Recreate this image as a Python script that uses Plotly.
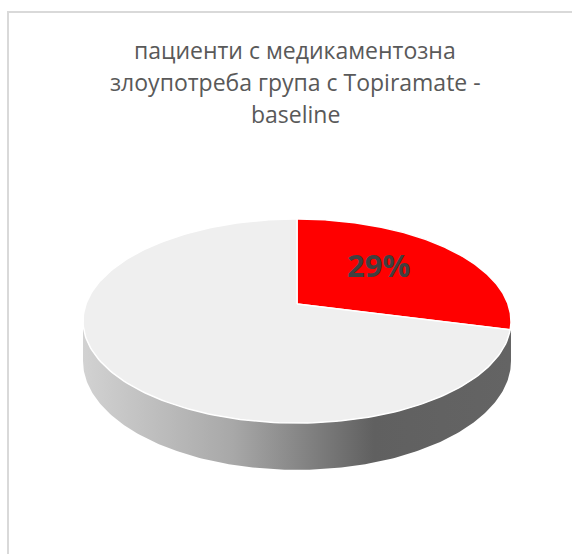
import numpy as np
import plotly.graph_objects as go

# Chart data
categories = ["с медикаментозна злоупотреба", "без медикаментозна злоупотреба"]
shares = [29, 71]
slice_colors = ["#ff0000", "#efefef"]
title_lines = ["пациенти с медикаментозна", "злоупотреба група с Topiramate -", "baseline"]

W, H = 572, 554

# Pseudo-3D pie geometry (pixel space)
cx, cy = 297.0, 304.0      # projected centre of the pie top
sx, sy = 211.0, 99.2       # horizontal / depth radii
k = 0.1667                 # perspective strength
h0 = 39.0                  # thickness of the disc


def project(theta_deg, r=1.0, drop=0.0):
    t = np.radians(theta_deg)
    u = r * np.sin(t)
    v = r * np.cos(t)
    w = 1.0 + k * v
    x = cx + sx * u / w
    y = cy - sy * v / w + drop / w
    return x, y


fig = go.Figure()

# Side wall of the disc (front half only)
t_front = np.linspace(np.degrees(np.pi / 2 + np.arcsin(k)), np.degrees(3 * np.pi / 2 - np.arcsin(k)), 200)
xt, yt = project(t_front)
xb, yb = project(t_front[::-1], drop=h0)
fig.add_trace(go.Scatter(
    x=np.concatenate([xt, xb, xt[:1]]),
    y=np.concatenate([yt, yb, yt[:1]]),
    mode="lines", line=dict(width=0),
    fill="toself",
    fillgradient=dict(type="horizontal",
                      colorscale=[[0, "#d2d2d2"], [0.35, "#a8a8a8"], [0.68, "#606060"], [1, "#646464"]]),
    hoverinfo="skip", showlegend=False,
))

# Top face slices, clockwise from 12 o'clock
total = float(sum(shares))
start = 0.0
for name, val, col in zip(categories, shares, slice_colors):
    span = 360.0 * val / total
    th = np.linspace(start, start + span, 200)
    ax, ay = project(th)
    fig.add_trace(go.Scatter(
        x=np.concatenate([[cx], ax, [cx]]),
        y=np.concatenate([[cy], ay, [cy]]),
        mode="lines", line=dict(color="white", width=1.5),
        fill="toself", fillcolor=col, name=name,
        hoverinfo="name", showlegend=False,
    ))
    start += span

# Percentage label of the first slice
mid = 360.0 * shares[0] / total / 2
lx, ly = project(mid, r=0.53)
fig.add_annotation(x=lx - 2, y=ly, text=f"<b>{shares[0]}%</b>", showarrow=False,
                   yshift=8,
                   font=dict(family="Open Sans", size=31, color="#404040"))

# Title, one annotation per line
for i, line in enumerate(title_lines):
    fig.add_annotation(x=295, y=50 + 32 * i, yanchor="middle", text=line, showarrow=False,
                       font=dict(family="Open Sans", size=23, color="#595959"))

# Chart area border
fig.add_shape(type="rect", x0=8, y0=12, x1=W + 10, y1=H + 10,
              line=dict(color="#d9d9d9", width=2), fillcolor="rgba(0,0,0,0)", layer="below")

fig.update_xaxes(range=[0, W], visible=False, fixedrange=True)
fig.update_yaxes(range=[H, 0], visible=False, fixedrange=True)
fig.update_layout(width=W, height=H, margin=dict(l=0, r=0, t=0, b=0),
                  paper_bgcolor="white", plot_bgcolor="white")

fig.write_html("out.html")
